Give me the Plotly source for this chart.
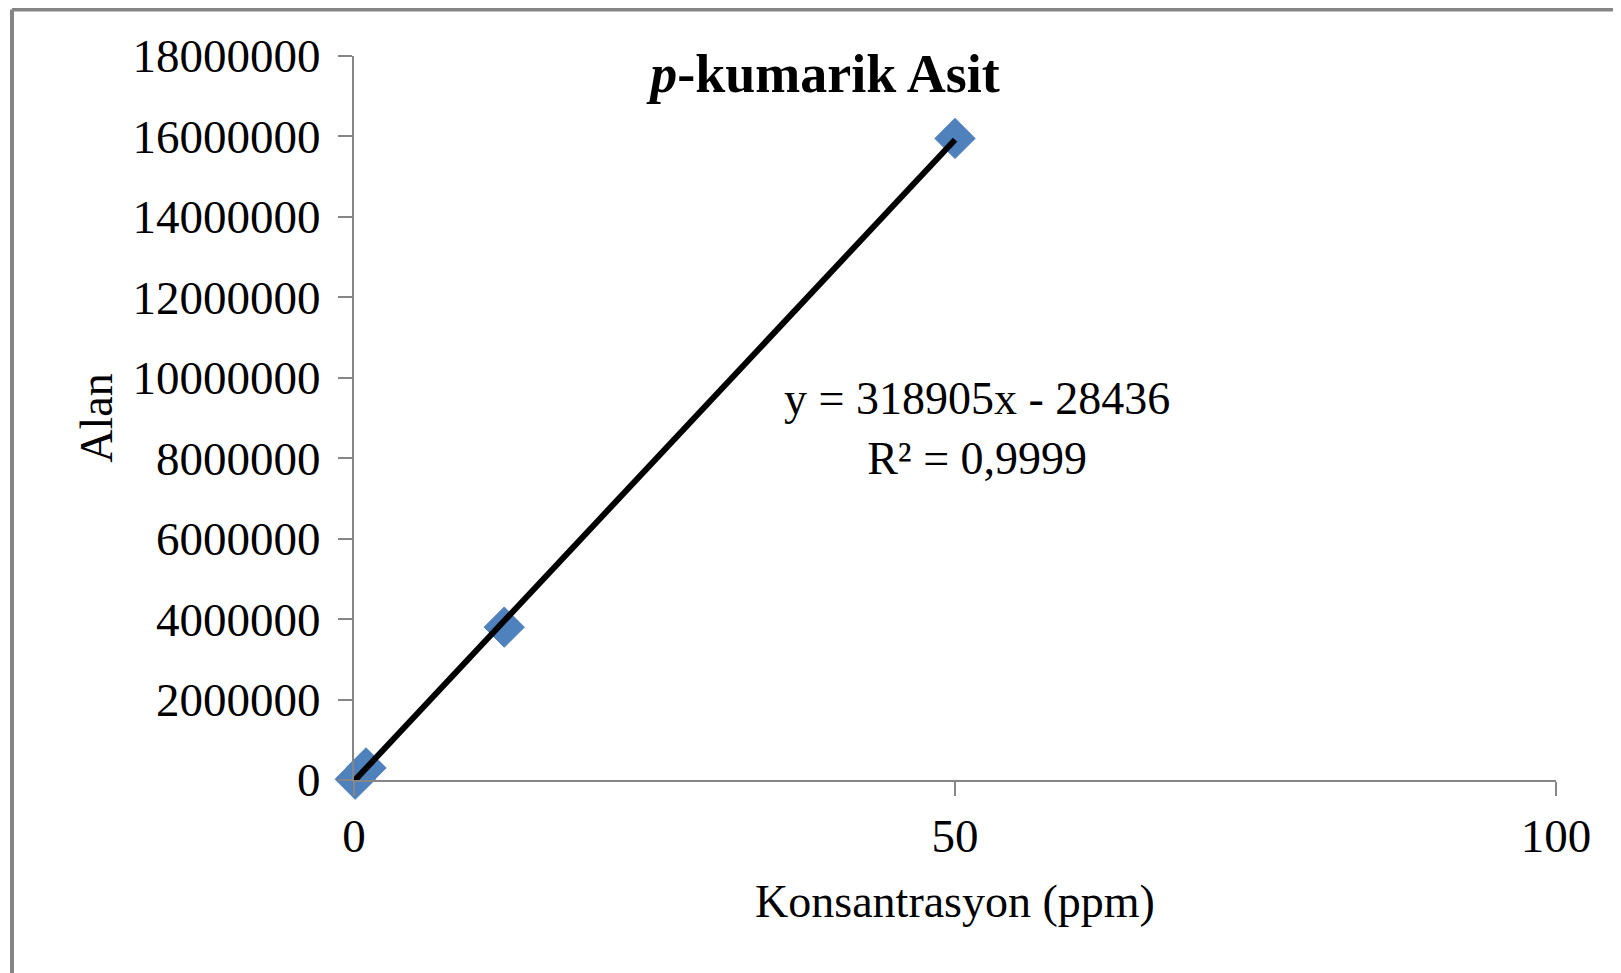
"""Calibration curve for p-kumarik asit, styled like an Excel chart."""

import plotly.graph_objects as go

# Measured points (concentration in ppm, peak area)
konsantrasyon = [0.1, 1, 12.5, 50]
alan = [20000, 300000, 3800000, 15950000]

# Linear trendline endpoints, y = 318905x - 28436
trend_x = [0, 50]
trend_y = [-28436, 15916814]

equation_text = "y = 318905x - 28436<br>R² = 0,9999"
y_ticks = [0, 2000000, 4000000, 6000000, 8000000, 10000000,
           12000000, 14000000, 16000000, 18000000]
x_ticks = [0, 50, 100]

FONT = "Liberation Serif, Times New Roman, serif"
AXIS_GREY = "#868686"
MARKER_BLUE = "#4F81BD"

# The page body adds an 8px offset, so margins are set 8px smaller top/left
WIDTH, HEIGHT = 1621, 973
MARGIN = {"l": 346, "r": 73, "t": 48, "b": 201, "pad": 0}

fig = go.Figure()

fig.add_trace(
    go.Scatter(
        x=konsantrasyon,
        y=alan,
        mode="markers",
        marker={
            "symbol": "diamond",
            "size": 31,
            "color": MARKER_BLUE,
            "line": {"color": MARKER_BLUE, "width": 1},
        },
        cliponaxis=False,
        showlegend=False,
    )
)

fig.add_trace(
    go.Scatter(
        x=trend_x,
        y=trend_y,
        mode="lines",
        line={"color": "black", "width": 6},
        cliponaxis=False,
        showlegend=False,
    )
)

fig.add_annotation(
    x=51.8,
    y=8750000,
    xref="x",
    yref="y",
    text=equation_text,
    showarrow=False,
    xanchor="center",
    yanchor="middle",
    font={"family": FONT, "size": 46, "color": "black"},
)

# Outer chart frame: only the left and top edges fall inside the picture
plot_w = WIDTH - MARGIN["l"] - MARGIN["r"]
plot_h = HEIGHT - MARGIN["t"] - MARGIN["b"]
frame_x = (4 - MARGIN["l"]) / plot_w
frame_y = (HEIGHT - MARGIN["b"] - 1.5) / plot_h
frame_line = {"color": "#858585", "width": 4}
fig.add_shape(
    type="line", xref="paper", yref="paper",
    x0=frame_x, x1=frame_x, y0=frame_y, y1=-2,
    line=frame_line, layer="above",
)
fig.add_shape(
    type="line", xref="paper", yref="paper",
    x0=frame_x, x1=2, y0=frame_y, y1=frame_y,
    line=frame_line, layer="above",
)

fig.update_layout(
    width=WIDTH,
    height=HEIGHT,
    margin=MARGIN,
    paper_bgcolor="white",
    plot_bgcolor="white",
    font={"family": FONT, "size": 46, "color": "black"},
    title={
        "text": "<b><i>p</i>-kumarik Asit</b>",
        "x": 0.504,
        "xref": "container",
        "xanchor": "center",
        "y": 1 - 65 / HEIGHT,
        "yref": "container",
        "yanchor": "middle",
        "font": {"family": FONT, "size": 54, "color": "black"},
    },
    xaxis={
        "range": [0, 100],
        "tickvals": x_ticks,
        "ticks": "outside",
        "ticklen": 14,
        "tickwidth": 2,
        "tickcolor": AXIS_GREY,
        "showline": True,
        "linecolor": AXIS_GREY,
        "linewidth": 2,
        "showgrid": False,
        "zeroline": False,
        "tickfont": {"size": 47},
        "title": {"text": "Konsantrasyon (ppm)", "font": {"size": 46}, "standoff": 23},
    },
    yaxis={
        "range": [0, 18000000],
        "tickvals": y_ticks,
        "tickformat": "d",
        "ticks": "outside",
        "ticklen": 14,
        "tickwidth": 2,
        "tickcolor": AXIS_GREY,
        "showline": True,
        "linecolor": AXIS_GREY,
        "linewidth": 2,
        "showgrid": False,
        "zeroline": False,
        "tickfont": {"size": 47},
        "ticklabelstandoff": 8,
        "title": {"text": "Alan", "font": {"size": 46}, "standoff": 5},
    },
)

fig.write_html("out.html")
